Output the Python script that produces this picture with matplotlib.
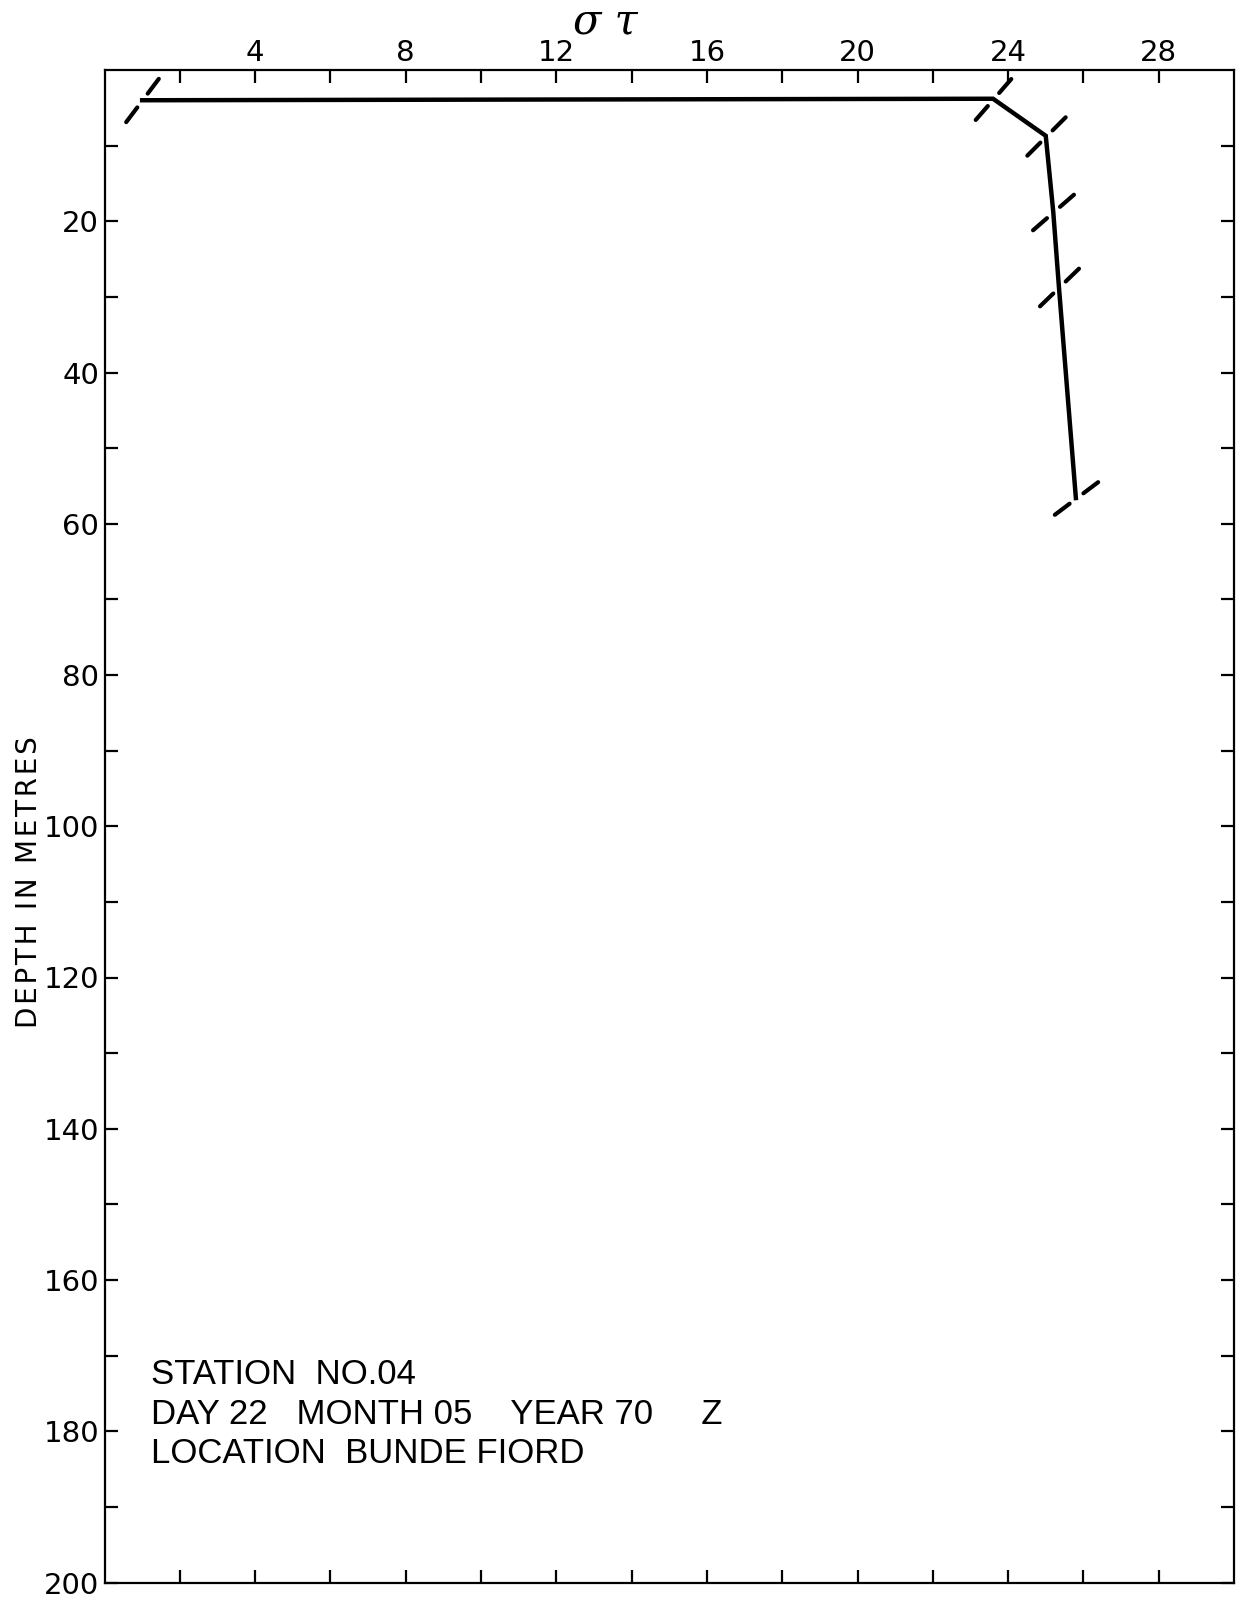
import numpy as np
import matplotlib
matplotlib.use("Agg")
import matplotlib.pyplot as plt
from matplotlib.path import Path
from matplotlib.markers import MarkerStyle
from matplotlib.transforms import Affine2D

# sigma-t profile, station 04, Bunde Fiord
sigma_t = [1.0, 23.6, 25.0, 25.2, 25.35, 25.8]
depth = [4.0, 3.8, 8.7, 18.8, 28.7, 56.6]
# slant of the slash mark at each observation (degrees)
hatch_angle = [53, 49, 45, 41, 44, 37]

sigma_ticks = [2, 4, 6, 8, 10, 12, 14, 16, 18, 20, 22, 24, 26, 28]
sigma_labels = ["", "4", "", "8", "", "12", "", "16", "", "20", "", "24", "", "28"]
depth_ticks = [10, 20, 30, 40, 50, 60, 70, 80, 90, 100,
               110, 120, 130, 140, 150, 160, 170, 180, 190, 200]
depth_labels = ["", "20", "", "40", "", "60", "", "80", "", "100",
                "", "120", "", "140", "", "160", "", "180", "", "200"]

info_lines = ["STATION  NO.04",
              "DAY 22   MONTH 05    YEAR 70     Z",
              "LOCATION  BUNDE FIORD"]

plt.rcParams["font.family"] = ["DejaVu Sans"]

fig = plt.figure(figsize=(12.55, 16), dpi=100)
ax = fig.add_axes([104.5 / 1255, 17.5 / 1600, 1129.5 / 1255, 1512.5 / 1600])

ax.plot(sigma_t, depth, color="black", linewidth=3.2, solid_joinstyle="miter")

# slash marks with a gap where the profile passes
slash = Path([(-1, 0), (-0.32, 0), (0.32, 0), (1, 0)],
             [Path.MOVETO, Path.LINETO, Path.MOVETO, Path.LINETO])
for s, d, a in zip(sigma_t, depth, hatch_angle):
    m = MarkerStyle(slash, transform=Affine2D().rotate_deg(a), capstyle="round")
    ax.plot(s, d, linestyle="none", marker=m, markersize=39,
            markeredgecolor="black", markerfacecolor="none", markeredgewidth=3)

ax.set_xlim(0, 30)
ax.set_ylim(200, 0)
ax.set_xticks(sigma_ticks, sigma_labels)
ax.set_yticks(depth_ticks, depth_labels)
ax.tick_params(axis="both", direction="in", length=9.5, width=1.6,
               top=True, bottom=True, left=True, right=True,
               labeltop=True, labelbottom=False, labelsize=21)
ax.tick_params(axis="x", pad=2)
ax.tick_params(axis="y", pad=4)
for sp in ax.spines.values():
    sp.set_linewidth(1.6)

ax.text(0.443, 1.032, "σ τ", transform=ax.transAxes, ha="center", va="center",
        fontsize=30, family="DejaVu Serif", style="italic")
ax.set_ylabel("\u200a".join("DEPTH IN METRES"), fontsize=20, labelpad=0)
ax.yaxis.set_label_coords(-0.0545, 0.463)

for i, line in enumerate(info_lines):
    ax.text(0.0412, 0.1372 - i * 0.0258, line, transform=ax.transAxes,
            ha="left", va="center", fontsize=25, family="Liberation Sans")

fig.savefig("out.png", dpi=100)
